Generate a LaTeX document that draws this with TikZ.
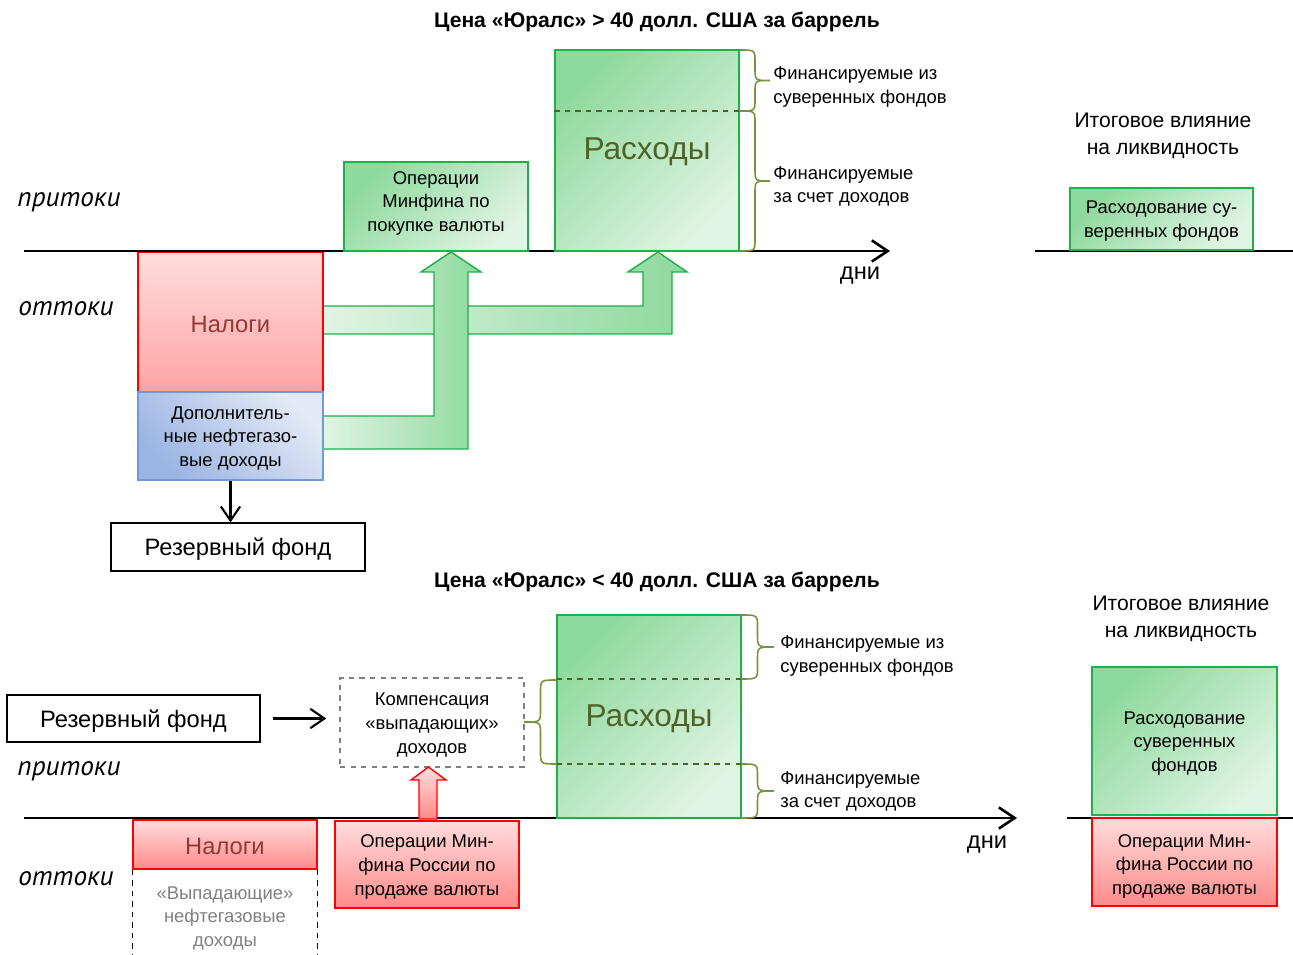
\documentclass[tikz,border=0pt]{standalone}
\usepackage{fontspec}
\setmainfont{Liberation Sans}
\newfontfamily\labfont{PT Sans}
\usetikzlibrary{arrows.meta,calc}

\definecolor{gD}{HTML}{8ED99D}
\definecolor{gL}{HTML}{E0F4E3}
\definecolor{gB}{HTML}{1DB04B}
\definecolor{rT}{HTML}{FFDCDC}
\definecolor{rB}{HTML}{FFA3A3}
\definecolor{rB2}{HTML}{FF8A8A}
\definecolor{rBd}{HTML}{FF0000}
\definecolor{bL}{HTML}{E3EAF6}
\definecolor{bD}{HTML}{9BB4E3}
\definecolor{bBd}{HTML}{6C9ADB}
\definecolor{olv}{HTML}{77933C}
\definecolor{rasT}{HTML}{4F6228}
\definecolor{nalT}{HTML}{953735}
\definecolor{gryT}{HTML}{808080}

\newcommand{\mybrace}[4]{%
 \draw[brc] (#1,#2) .. controls ({#1+0.5*(#4)},#2) .. ({#1+0.5*(#4)},{#2+12})
 -- ({#1+0.5*(#4)},{0.5*(#2+#3)-12}) .. controls ({#1+0.5*(#4)},{0.5*(#2+#3)}) .. ({#1+(#4)},{0.5*(#2+#3)})
 .. controls ({#1+0.5*(#4)},{0.5*(#2+#3)}) .. ({#1+0.5*(#4)},{0.5*(#2+#3)+12})
 -- ({#1+0.5*(#4)},{#3-12}) .. controls ({#1+0.5*(#4)},#3) .. (#1,#3);}

\tikzset{
 tshift/.style={yshift=-1.4pt},
 bodytxt/.style={tshift, font=\fontsize{10.5}{13.6}\selectfont, align=center, inner sep=0pt},
 mybox/.style={rectangle, inner sep=0pt, line width=0.8pt},
 gbox/.style={mybox, draw=gB, top color=gD, bottom color=gL, shading angle=45},
 rbox/.style={mybox, draw=rBd, top color=rT, bottom color=rB},
 bbox/.style={mybox, draw=bBd, top color=bL, bottom color=bD, shading angle=-45},
 wbox/.style={mybox, draw=black, line width=0.7pt},
 dbox/.style={mybox, draw=gryT, dashed, line width=0.9pt, fill=white},
 axisln/.style={line width=1.5pt, -{Straight Barb[length=9pt,width=12pt]}},
 plainline/.style={line width=1.5pt},
 thinarr/.style={line width=1.2pt, -{Straight Barb[length=8pt,width=11pt]}},
 brc/.style={draw=olv, line width=0.9pt},
 seplin/.style={draw=rasT, dashed, line width=0.7pt},
 sidelbl/.style={tshift, inner sep=0pt, font=\labfont\itshape\fontsize{15.5}{18}\selectfont},
 lbl/.style={bodytxt, align=left, anchor=west},
 ttl/.style={tshift, font=\bfseries\fontsize{12}{14}\selectfont},
 hd/.style={tshift, font=\fontsize{12}{15.3}\selectfont, align=center},
 dni/.style={tshift, font=\fontsize{13.5}{16}\selectfont},
 bigtxt/.style={tshift, font=\fontsize{13.5}{16}\selectfont},
 rastxt/.style={tshift, text=rasT, font=\fontsize{18}{20}\selectfont},
 fatg/.style={draw=gB, line width=0.8pt, left color=gL, right color=gD},
 fatr/.style={draw=rBd, line width=0.8pt, top color=rT, bottom color=rB2},
 vdash/.style={dashed, line width=0.7pt},
}

\begin{document}
\begin{tikzpicture}[x=0.02cm,y=-0.02cm]
\useasboundingbox (0,0) rectangle (1293,955);

% ---------- titles
\node[ttl] (t1) at (657,20) {Цена «Юралс» > 40 долл. США за баррель};
\node[ttl] (t2) at (657,579) {Цена «Юралс» < 40 долл. США за баррель};

% ---------- top axis
\coordinate (a1s) at (24,251); \coordinate (a1e) at (890,251);
\draw[axisln] (a1s) -- (a1e);
\coordinate (r1s) at (1035,251); \coordinate (r1e) at (1293,251);
\draw[plainline] (r1s) -- (r1e);

% fat green arrows
\shade[fatg] (323,306) -- (643,306) -- (643,272) -- (628,272) -- (658,252) -- (687,272) -- (672,272) -- (672,334) -- (323,334) -- cycle;
\shade[fatg] (323,416) -- (434,416) -- (434,272) -- (421,272) -- (451,252) -- (481,272) -- (468,272) -- (468,449) -- (323,449) -- cycle;

% top boxes
\node[rbox, minimum width=3.70cm, minimum height=2.79cm] (nal1) at (230.5,322.25) {};
\node[bigtxt, text=nalT] (nal1t) at (nal1.center) {Налоги};
\node[bbox, minimum width=3.70cm, minimum height=1.76cm] (dop) at (230.5,436) {};
\node[bodytxt] (dopt) at (dop.center) {Дополнитель-\\ные нефтегазо-\\вые доходы};
\node[wbox, minimum width=5.08cm, minimum height=0.96cm] (rf1) at (238,547) {};
\node[bigtxt] (rf1t) at (rf1.center) {Резервный фонд};
\draw[thinarr] (dop.south) -- (dop.south |- rf1.north);

\node[gbox, minimum width=3.68cm, minimum height=1.78cm] (ops1) at (436,206.5) {};
\node[bodytxt] (ops1t) at ($(ops1.center)+(0,-5.5)$) {Операции\\Минфина по\\покупке валюты};

\node[gbox, minimum width=3.68cm, minimum height=4.02cm] (ras1) at (647,150.5) {};
\node[rastxt] (ras1t) at ($(ras1.center)+(0,-1.5)$) {Расходы};
\coordinate (s1) at (0,111);
\draw[seplin] (ras1.west |- s1) -- (ras1.east |- s1);

\mybrace{740}{50}{111}{30}
\mybrace{740}{111}{251}{30}
\node[lbl] (f1) at (773,85) {Финансируемые из\\суверенных фондов};
\node[lbl] (f2) at (773,184) {Финансируемые\\за счет доходов};

\node[dni] (d1) at (860,273) {дни};
\node[sidelbl] (p1) at (69,200) {притоки};
\node[sidelbl] (o1) at (66,306) {оттоки};

\node[hd] (h1) at (1163,133) {Итоговое влияние\\на ликвидность};
\node[gbox, minimum width=3.66cm, minimum height=1.24cm] (tot1) at (1161.5,219) {};
\node[bodytxt] (tot1t) at (tot1.center) {Расходование су-\\веренных фондов};

% ---------- bottom axis
\coordinate (a2s) at (24,818); \coordinate (a2e) at (1017,818);
\draw[axisln] (a2s) -- (a2e);
\coordinate (r2s) at (1067,818); \coordinate (r2e) at (1293,818);
\draw[plainline] (r2s) -- (r2e);

\node[wbox, minimum width=5.06cm, minimum height=0.94cm] (rf2) at (133.5,718.5) {};
\node[bigtxt] (rf2t) at (rf2.center) {Резервный фонд};
\node[dbox, minimum width=3.68cm, minimum height=1.78cm] (komp) at (432,722.5) {};
\node[bodytxt] (kompt) at (komp.center) {Компенсация\\«выпадающих»\\доходов};
\draw[thinarr, shorten <=0.24cm, shorten >=0.26cm] (rf2.east) -- (rf2.east -| komp.west);

\node[gbox, minimum width=3.68cm, minimum height=4.06cm] (ras2) at (649,716.5) {};
\node[rastxt] (ras2t) at (ras2.center) {Расходы};
\coordinate (s2) at (0,679); \coordinate (s3) at (0,764);
\draw[seplin] (ras2.west |- s2) -- (ras2.east |- s2);
\draw[seplin] (ras2.west |- s3) -- (ras2.east |- s3);

\mybrace{741}{615}{679}{33}
\mybrace{741}{764}{818}{33}
\mybrace{557}{680}{764}{-33}
\node[lbl] (f3) at (780,654) {Финансируемые из\\суверенных фондов};
\node[lbl] (f4) at (780,789) {Финансируемые\\за счет доходов};

\node[dni] (d2) at (987,842) {дни};
\node[sidelbl] (p2) at (69,769) {притоки};
\node[sidelbl] (o2) at (66,876) {оттоки};

\node[rbox, bottom color=rB2, minimum width=3.68cm, minimum height=0.98cm] (nal2) at (225,844.5) {};
\node[bigtxt, text=nalT] (nal2t) at ($(nal2.center)+(0,-1)$) {Налоги};
\coordinate (vb) at (0,955);
\draw[vdash] (nal2.south west) -- (nal2.south west |- vb);
\draw[vdash] (nal2.south east) -- (nal2.south east |- vb);
\node[bodytxt, text=gryT] (vyp) at (225,916) {«Выпадающие»\\нефтегазовые\\доходы};

\node[rbox, bottom color=rB2, minimum width=3.68cm, minimum height=1.74cm] (ops2) at (427,864.5) {};
\node[bodytxt] (ops2t) at (ops2.center) {Операции Мин-\\фина России по\\продаже валюты};
\shade[fatr] (419,819) -- (419,780) -- (411,780) -- (428.5,767) -- (446,780) -- (437,780) -- (437,819) -- cycle;

\node[hd] (h2) at (1181,616) {Итоговое влияние\\на ликвидность};
\node[gbox, minimum width=3.70cm, minimum height=2.96cm] (tot2g) at (1184.5,741) {};
\node[bodytxt] (tot2gt) at (tot2g.center) {Расходование\\суверенных\\фондов};
\node[rbox, bottom color=rB2, minimum width=3.70cm, minimum height=1.76cm] (tot2r) at (1184.5,862) {};
\node[bodytxt] (tot2rt) at ($(tot2r.center)+(0,2)$) {Операции Мин-\\фина России по\\продаже валюты};
\end{tikzpicture}
\end{document}
